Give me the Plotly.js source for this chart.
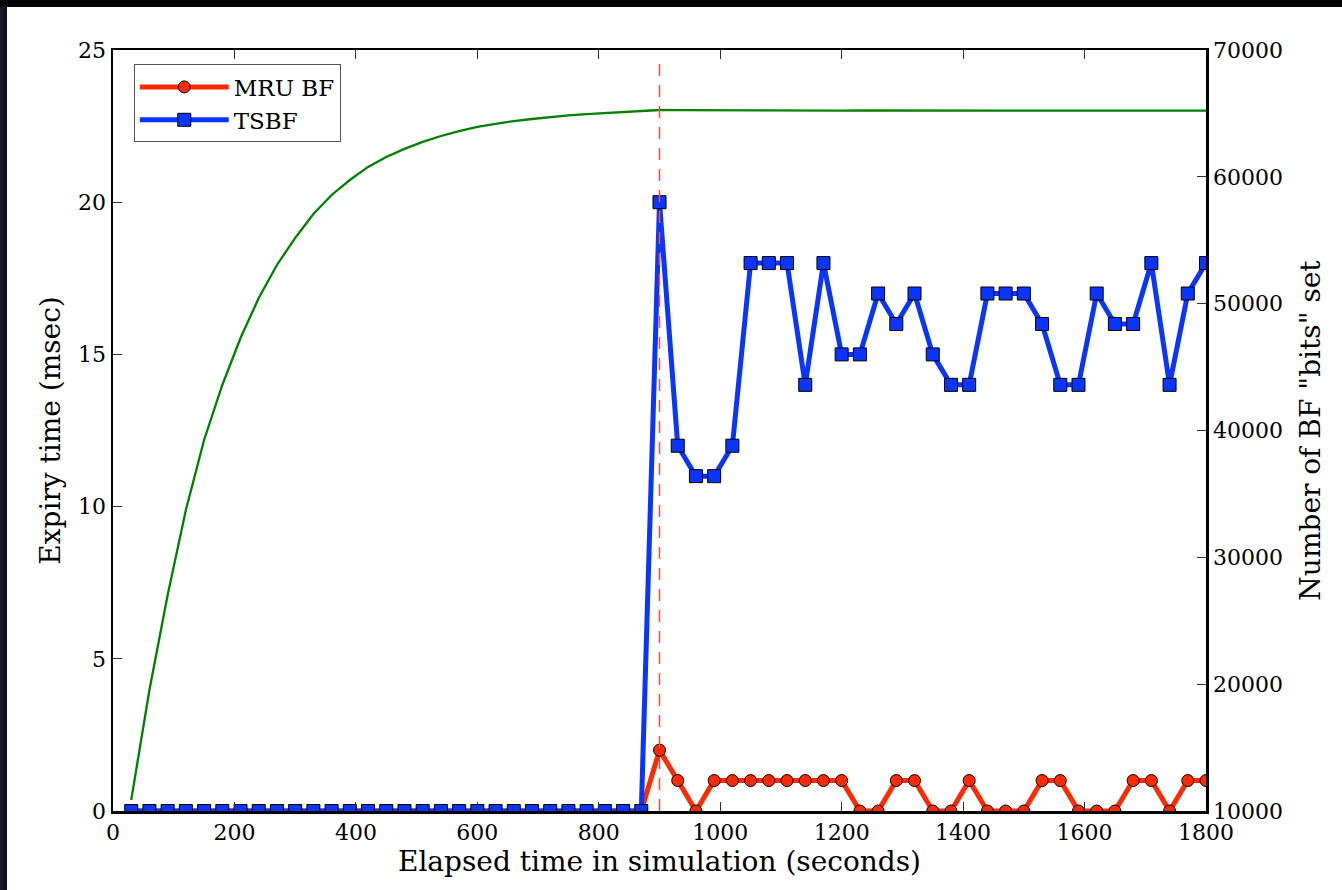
<!DOCTYPE html>
<html>
<head>
<meta charset="utf-8">
<script src="https://cdn.plot.ly/plotly-3.0.1.min.js"></script>
<style>
  html, body { margin: 0; padding: 0; width: 1342px; height: 890px; overflow: hidden;
    background: linear-gradient(90deg, #1e1e2e 0px, #0c0c18 7px); }
  #top { position: absolute; left: 0; top: 0; width: 1342px; height: 7px; background: #04040a; }
  #chart { position: absolute; left: 7px; top: 7px; width: 1335px; height: 883px; background: #ffffff; }
</style>
</head>
<body>
<div id="top"></div>
<div id="chart"></div>
<script>
// Elapsed time (seconds), one sample every 30 s
const elapsedTime = [30,60,90,120,150,180,210,240,270,300,330,360,390,420,450,480,510,540,570,600,
  630,660,690,720,750,780,810,840,870,900,930,960,990,1020,1050,1080,1110,1140,1170,1200,
  1230,1260,1290,1320,1350,1380,1410,1440,1470,1500,1530,1560,1590,1620,1650,1680,1710,1740,1770,1800];

// Expiry time (msec) — MRU BF
const mruBF = [0,0,0,0,0,0,0,0,0,0,0,0,0,0,0,0,0,0,0,0,
  0,0,0,0,0,0,0,0,0,2,1,0,1,1,1,1,1,1,1,1,
  0,0,1,1,0,0,1,0,0,0,1,1,0,0,0,1,1,0,1,1];

// Expiry time (msec) — TSBF
const tsbf = [0,0,0,0,0,0,0,0,0,0,0,0,0,0,0,0,0,0,0,0,
  0,0,0,0,0,0,0,0,0,20,12,11,11,12,18,18,18,14,18,15,
  15,17,16,17,15,14,14,17,17,17,16,14,14,17,16,16,18,14,17,18];

// Number of BF "bits" set (right axis)
const bitsSet = [10870,19540,27030,33730,39250,43590,47290,50450,53050,55180,
  57070,58570,59750,60780,61560,62200,62750,63220,63610,63930,
  64170,64400,64560,64720,64840,64950,65030,65110,65190,65270,
  65260,65250,65240,65240,65230,65230,65230,65220,65220,65220,
  65230,65230,65230,65230,65240,65240,65240,65230,65230,65230,
  65230,65220,65220,65220,65230,65230,65230,65220,65220,65220];

// Time at which the vertical dashed marker is drawn
const markerTime = 900;

const xTicks = [0,200,400,600,800,1000,1200,1400,1600,1800];
const yTicks = [0,5,10,15,20,25];
const y2Ticks = [10000,20000,30000,40000,50000,60000,70000];

const serif = "DejaVu Serif, Liberation Serif, serif";

const traces = [
  {
    x: elapsedTime, y: bitsSet, yaxis: 'y2', type: 'scatter', mode: 'lines',
    line: { color: '#008000', width: 2.3 }, showlegend: false, hoverinfo: 'skip'
  },
  {
    x: elapsedTime, y: mruBF, name: 'MRU BF', type: 'scatter', mode: 'lines+markers',
    cliponaxis: true,
    line: { color: '#ff2a00', width: 5 },
    marker: { symbol: 'circle', size: 12, color: '#ff2a00', line: { color: '#000000', width: 1 } }
  },
  {
    x: elapsedTime, y: tsbf, name: 'TSBF', type: 'scatter', mode: 'lines+markers',
    cliponaxis: true,
    line: { color: '#0a35ff', width: 5 },
    marker: { symbol: 'square', size: 13, color: '#0a35ff', line: { color: '#000000', width: 1 } }
  }
];

const layout = {
  width: 1335, height: 883,
  margin: { l: 106, r: 136, t: 43, b: 79 },
  paper_bgcolor: '#ffffff', plot_bgcolor: '#ffffff',
  font: { family: serif, size: 22, color: '#000000' },
  showlegend: true,
  legend: {
    x: 0.019, y: 0.981, xanchor: 'left', yanchor: 'top',
    bgcolor: '#ffffff', bordercolor: '#555555', borderwidth: 1,
    font: { family: serif, size: 23, color: '#000000' },
    tracegroupgap: 0, itemwidth: 89
  },
  xaxis: {
    range: [0, 1800], tickvals: xTicks, ticktext: xTicks.map(String),
    showgrid: false, zeroline: false,
    showline: true, linecolor: '#000000', linewidth: 2.5, mirror: 'ticks',
    ticks: 'inside', ticklen: 9, tickwidth: 1, tickcolor: '#333333',
    tickfont: { family: serif, size: 22 },
    title: { text: 'Elapsed time in simulation (seconds)', font: { family: serif, size: 28 }, standoff: 1 }
  },
  yaxis: {
    range: [0, 25], tickvals: yTicks, ticktext: yTicks.map(String),
    showgrid: false, zeroline: false,
    showline: true, linecolor: '#000000', linewidth: 2.5,
    ticks: 'inside', ticklen: 9, tickwidth: 1, tickcolor: '#333333',
    tickfont: { family: serif, size: 22 },
    title: { text: 'Expiry time (msec)', font: { family: serif, size: 28 }, standoff: 10 }
  },
  yaxis2: {
    range: [10000, 70000], tickvals: y2Ticks, ticktext: y2Ticks.map(String),
    overlaying: 'y', side: 'right',
    showgrid: false, zeroline: false,
    showline: true, linecolor: '#000000', linewidth: 2.5,
    ticks: 'inside', ticklen: 9, tickwidth: 1, tickcolor: '#333333',
    tickfont: { family: serif, size: 22 },
    title: { text: 'Number of BF "bits" set', font: { family: serif, size: 28 }, standoff: 19 }
  },
  shapes: [
    {
      type: 'line', xref: 'x', yref: 'paper', x0: markerTime, x1: markerTime, y0: 0, y1: 0.99,
      line: { color: '#ff4d3a', width: 1.5, dash: '12px,9px' }, layer: 'above'
    }
  ]
};

Plotly.newPlot('chart', traces, layout, { displayModeBar: false, staticPlot: true });
</script>
</body>
</html>
